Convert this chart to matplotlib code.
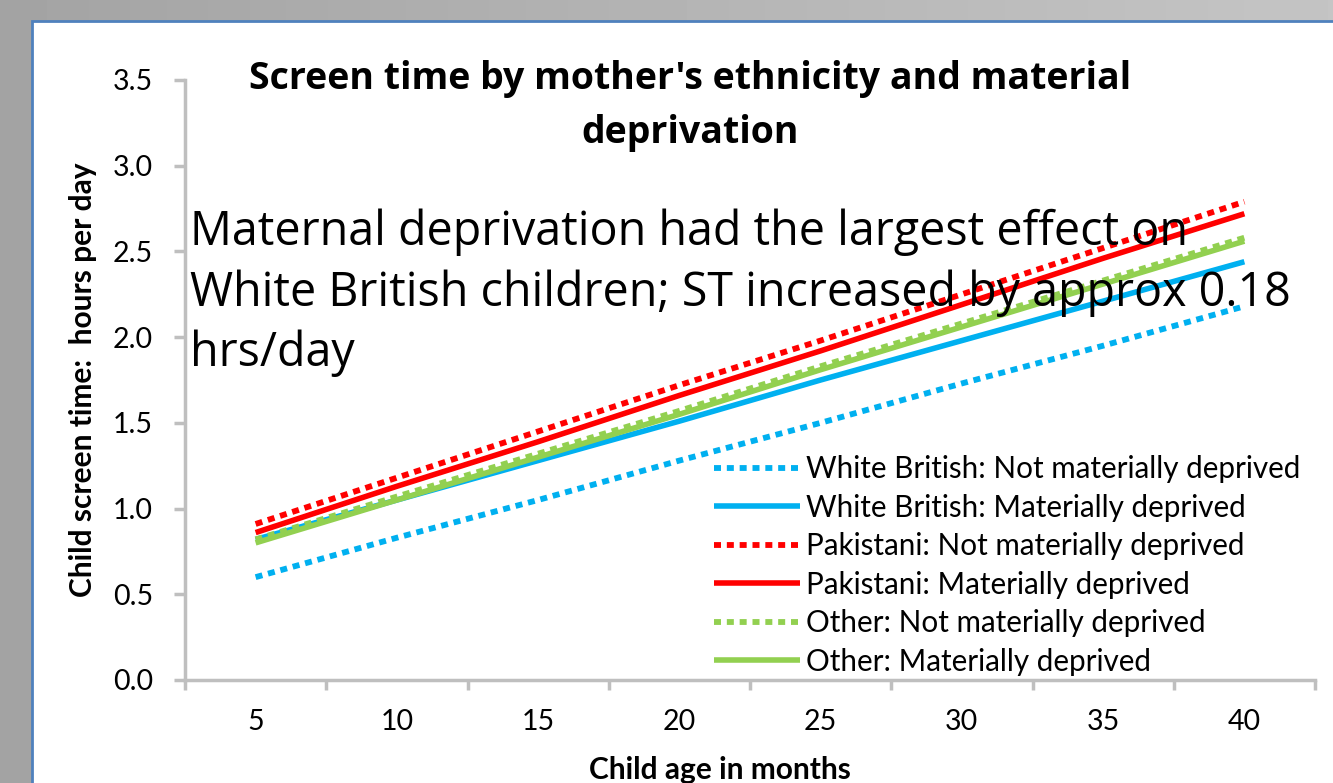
import matplotlib.pyplot as plt
import numpy as np
from matplotlib.patches import Rectangle

# data
ages = [5, 10, 15, 20, 25, 30, 35, 40]
wb_not = [0.60, 0.83, 1.05, 1.28, 1.50, 1.73, 1.95, 2.18]
wb_dep = [0.82, 1.05, 1.28, 1.51, 1.75, 1.98, 2.21, 2.44]
pak_not = [0.91, 1.18, 1.45, 1.72, 1.98, 2.25, 2.52, 2.79]
pak_dep = [0.86, 1.13, 1.39, 1.66, 1.92, 2.19, 2.46, 2.72]
oth_not = [0.82, 1.07, 1.32, 1.57, 1.83, 2.08, 2.33, 2.58]
oth_dep = [0.80, 1.05, 1.30, 1.55, 1.81, 2.06, 2.31, 2.56]
labels = ['White British: Not materially deprived',
          'White British: Materially deprived',
          'Pakistani: Not materially deprived',
          'Pakistani: Materially deprived',
          'Other: Not materially deprived',
          'Other: Materially deprived']
yticks = [0.0, 0.5, 1.0, 1.5, 2.0, 2.5, 3.0, 3.5]

plt.rcParams['font.family'] = ['Lato', 'DejaVu Sans']

W, H = 1333, 783
fig = plt.figure(figsize=(W / 100, H / 100), dpi=100)

# grey slide background (light gradient) with white panel and blue frame
bg = fig.add_axes([0, 0, 1, 1], zorder=-10)
bg.imshow(np.linspace(0.64, 0.77, 256)[None, :], cmap='gray', vmin=0, vmax=1,
          aspect='auto', extent=(0, 1, 0, 1))
bg.add_patch(Rectangle((32 / W, -0.01), 1.0, 1 - 21 / H + 0.01, transform=bg.transAxes,
                       facecolor='white', edgecolor='#4f81bd', lw=2))
bg.set_xlim(0, 1)
bg.set_ylim(0, 1)
bg.axis('off')

ax = fig.add_axes([185 / W, 1 - 680 / H, 1130 / W, 600 / H])
ax.set_facecolor('none')

x = list(range(len(ages)))
blue, red, green = '#00b0f0', '#ff0000', '#92d050'
dot = (1.2, 1.0)
series = [(wb_not, blue, True), (wb_dep, blue, False),
          (pak_not, red, True), (pak_dep, red, False),
          (oth_not, green, True), (oth_dep, green, False)]
for (vals, col, dotted), lab in zip(series, labels):
    if dotted:
        ax.plot(x, vals, color=col, lw=4.2, dashes=dot, dash_capstyle='butt', label=lab)
    else:
        ax.plot(x, vals, color=col, lw=4.0, solid_capstyle='butt', label=lab)

ax.set_xlim(-0.5, len(ages) - 0.5)
ax.set_ylim(0, 3.5)
ax.set_xticks(x)
ax.set_xticklabels([str(a) for a in ages])
ax.set_xticks([i - 0.5 for i in range(len(ages) + 1)], minor=True)
ax.tick_params(axis='x', which='major', length=0, pad=21, labelsize=20.5)
ax.tick_params(axis='x', which='minor', length=7, width=2.5, color='#bfbfbf')
ax.set_yticks(yticks)
ax.set_yticklabels(['%.1f' % v for v in yticks])
ax.tick_params(axis='y', length=8, width=2.5, color='#bfbfbf', pad=15, labelsize=20.5)
for s in ['top', 'right']:
    ax.spines[s].set_visible(False)
for s in ['left', 'bottom']:
    ax.spines[s].set_color('#bfbfbf')
    ax.spines[s].set_linewidth(2.5)

ax.set_xlabel('Child age in months', fontsize=21.5, fontweight='bold')
ax.xaxis.set_label_coords((720 - 185) / 1130, -(756 - 680) / 600)
ax.set_ylabel('Child screen time:  hours per day', fontsize=21.5, fontweight='bold')
ax.yaxis.set_label_coords(-(185 - 97) / 1130, 0.5)

fig.text(690 / W, 1 - 106 / H, "Screen time by mother's ethnicity and material\ndeprivation",
         ha='center', va='center', fontsize=27, fontweight='bold', linespacing=1.55,
         family='Open Sans')

fig.text(190 / W, 1 - 293 / H,
         'Maternal deprivation had the largest effect on\n'
         'White British children; ST increased by approx 0.18\n'
         'hrs/day', ha='left', va='center', fontsize=33.6, linespacing=1.36,
         family='Open Sans')

leg = ax.legend(loc='upper left', bbox_to_anchor=(714 / W, 1 - 455 / H),
                bbox_transform=fig.transFigure, frameon=False, fontsize=21.3,
                handlelength=2.9, handletextpad=0.2, labelspacing=0.355,
                borderpad=0, borderaxespad=0)

plt.savefig('out.png', dpi=100)
